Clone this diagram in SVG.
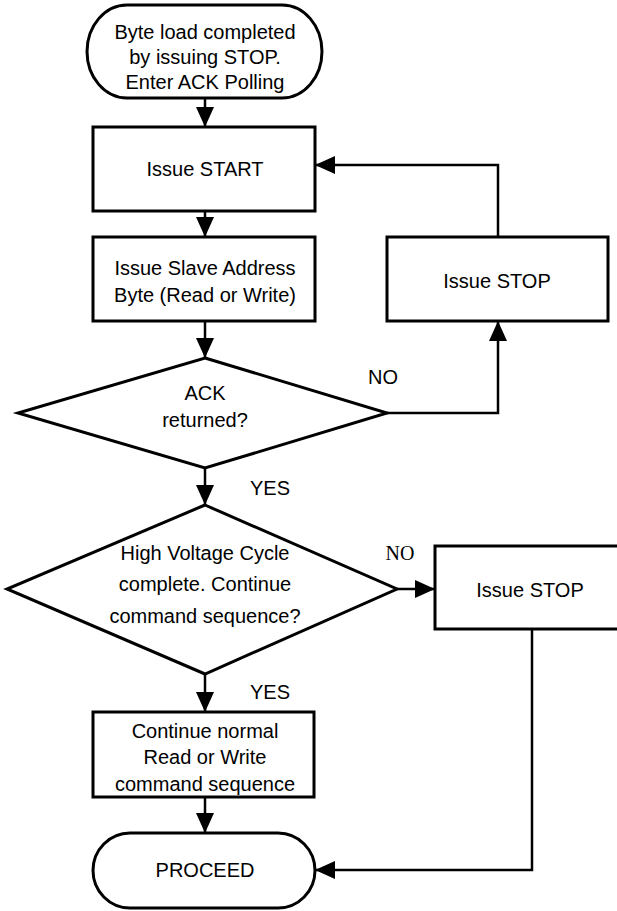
<svg xmlns="http://www.w3.org/2000/svg" width="617" height="911" viewBox="0 0 617 911">
<style>
.shape{fill:#fff;stroke:#000;stroke-width:3}
.conn{fill:none;stroke:#000;stroke-width:2.5}
text{font-family:"Liberation Sans",Arial,sans-serif;font-size:20px;fill:#000;text-anchor:middle}
.serif{font-family:"Liberation Serif","Times New Roman",serif;font-size:20px}
</style>
<defs>
<marker id="arr" viewBox="0 0 20 18" refX="20" refY="9" markerWidth="20" markerHeight="18" markerUnits="userSpaceOnUse" orient="auto">
<path d="M0,0 L20,9 L0,18 Z" fill="#000"/>
</marker>
</defs>
<rect width="617" height="911" fill="#fff"/>
<g id="connectors">
<path class="conn" d="M205,98 V127" marker-end="url(#arr)"/>
<path class="conn" d="M205,211 V237" marker-end="url(#arr)"/>
<path class="conn" d="M205,321 V358" marker-end="url(#arr)"/>
<path class="conn" d="M387,413 H498 V321" marker-end="url(#arr)"/>
<path class="conn" d="M498,237 V165 H315" marker-end="url(#arr)"/>
<path class="conn" d="M205,468 V505" marker-end="url(#arr)"/>
<path class="conn" d="M397,589 H435" marker-end="url(#arr)"/>
<path class="conn" d="M205,675 V712" marker-end="url(#arr)"/>
<path class="conn" d="M532,629 V870 H315" marker-end="url(#arr)"/>
<path class="conn" d="M205,797 V833" marker-end="url(#arr)"/>
<text x="383" y="384">NO</text>
<text x="270" y="495">YES</text>
<text class="serif" x="400" y="560">NO</text>
<text x="270" y="699">YES</text>
</g>
<g id="start">
<path class="shape" d="M127,5 H282 A40,46.5 0 0 1 282,98 H127 A40,46.5 0 0 1 127,5 Z"/>
<text x="205" y="39">Byte load completed</text>
<text x="205" y="64">by issuing STOP.</text>
<text x="205" y="89">Enter ACK Polling</text>
</g>
<g id="issue-start">
<rect class="shape" x="93" y="127" width="222" height="84"/>
<text x="205" y="176">Issue START</text>
</g>
<g id="slave-address">
<rect class="shape" x="93" y="237" width="222" height="84"/>
<text x="205" y="275">Issue Slave Address</text>
<text x="205" y="302">Byte (Read or Write)</text>
</g>
<g id="stop1">
<rect class="shape" x="387" y="237" width="221" height="84"/>
<text x="497" y="288">Issue STOP</text>
</g>
<g id="ack">
<polygon class="shape" points="205,358 387,413 205,468 18,413"/>
<text x="205" y="400">ACK</text>
<text x="205" y="427">returned?</text>
</g>
<g id="hv-cycle">
<polygon class="shape" points="205,505 397,589 205,674 7,589"/>
<text x="205" y="560">High Voltage Cycle</text>
<text x="205" y="591">complete. Continue</text>
<text x="205" y="623">command sequence?</text>
</g>
<g id="stop2">
<rect class="shape" x="435" y="546" width="195" height="83"/>
<text x="530" y="597">Issue STOP</text>
</g>
<g id="continue">
<rect class="shape" x="93" y="712" width="221" height="85"/>
<text x="205" y="738">Continue normal</text>
<text x="205" y="764">Read or Write</text>
<text x="205" y="791">command sequence</text>
</g>
<g id="proceed">
<path class="shape" d="M130,833 H278 A37,37.5 0 0 1 278,908 H130 A37,37.5 0 0 1 130,833 Z"/>
<text x="205" y="877">PROCEED</text>
</g>
</svg>
